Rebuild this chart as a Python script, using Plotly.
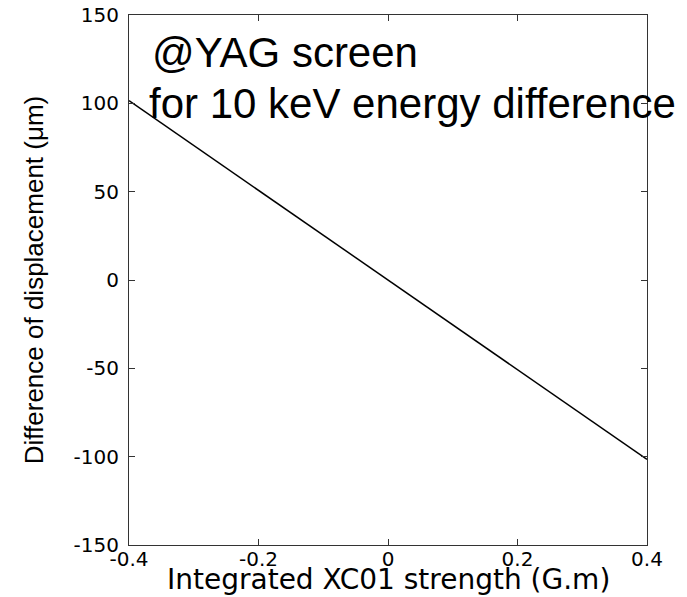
import plotly.graph_objects as go

# Kick strength of the XC01 corrector (G.m) and resulting displacement difference (um)
strength = [-0.4, -0.3, -0.2, -0.1, 0.0, 0.1, 0.2, 0.3, 0.4]
displacement_diff = [101.5, 76.1, 50.8, 25.4, 0.0, -25.4, -50.8, -76.1, -101.5]

x_ticks = [-0.4, -0.2, 0, 0.2, 0.4]
x_tick_text = ["-0.4", "-0.2", "0", "0.2", "0.4"]
y_ticks = [-150, -100, -50, 0, 50, 100, 150]
y_tick_text = ["-150", "-100", "-50", "0", "50", "100", "150"]

fig = go.Figure()
fig.add_trace(go.Scatter(
    x=strength, y=displacement_diff, mode="lines",
    line=dict(color="black", width=1.5), showlegend=False,
))

axis_common = dict(
    showgrid=False, zeroline=False, showline=True, linecolor="#333333", linewidth=1,
    mirror="ticks", ticks="inside", ticklen=6, tickwidth=1, tickcolor="#333333",
    tickfont=dict(family="DejaVu Sans", size=20, color="black"),
    automargin=False,
)

fig.update_layout(
    width=687, height=597,
    margin=dict(l=129, r=40, t=15, b=52),
    paper_bgcolor="white", plot_bgcolor="white",
    xaxis=dict(
        range=[-0.4, 0.4], tickvals=x_ticks, ticktext=x_tick_text,
        ticklabelstandoff=-4,
        **axis_common,
    ),
    yaxis=dict(
        range=[-150, 150], tickvals=y_ticks, ticktext=y_tick_text,
        ticklabelstandoff=5,
        title=dict(text="Difference of displacement (\u03bcm)", standoff=22,
                   font=dict(family="Liberation Sans", size=26, color="black")),
        **axis_common,
    ),
    annotations=[
        dict(text="@YAG screen", x=-0.368, y=128.5, xref="x", yref="y",
             xanchor="left", yanchor="middle", showarrow=False,
             font=dict(family="Liberation Sans", size=42, color="black")),
        dict(text="for 10 keV energy difference", x=-0.372, y=99.7, xref="x", yref="y",
             xanchor="left", yanchor="middle", showarrow=False,
             font=dict(family="Liberation Sans", size=42, color="black")),
        # x-axis title placed in the bottom margin
        dict(text="Integrated XC01 strength (G.m)", x=0.5, y=-52 / 530, xref="paper", yref="paper",
             xanchor="center", yanchor="bottom", showarrow=False, borderpad=0,
             font=dict(family="DejaVu Sans", size=28, color="black")),
    ],
)

fig.write_html("out.html")
